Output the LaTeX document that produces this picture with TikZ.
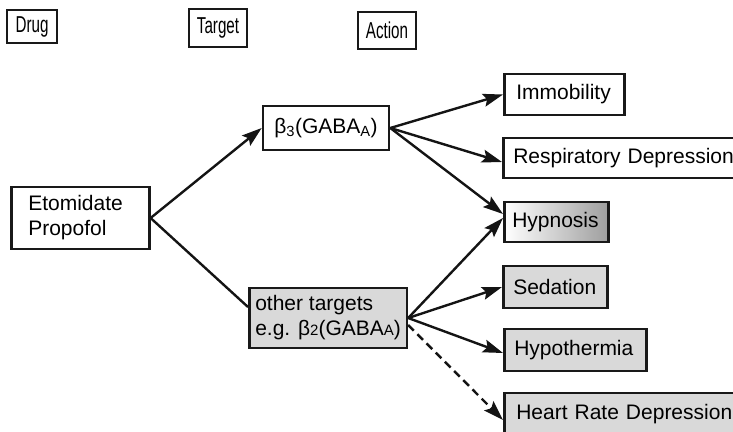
\documentclass[tikz,border=0pt]{standalone}
\usepackage{fontspec}
\setmainfont{Liberation Sans}
\newfontfamily\narrowhdr[FakeStretch=0.66]{Liberation Sans}
\usetikzlibrary{arrows.meta}
\begin{document}
\begin{tikzpicture}[x={(1pt,0pt)}, y={(0pt,-1pt)},
  box/.style={draw=black!90, line width=2.6pt, inner ysep=0pt, font=\fontsize{21}{25}\selectfont},
  hdr/.style={draw=black!90, line width=2.4pt, inner sep=0pt, font=\narrowhdr\fontsize{23}{26}\selectfont},
  grayfill/.style={fill=black!15},
  arr/.style={line width=2.4pt, draw=black!92, -{Stealth[length=20pt,width=13pt,inset=3.5pt]}},
  plain/.style={line width=2.4pt, draw=black!92},
  dashline/.style={dash pattern=on 8pt off 5pt}
]
\useasboundingbox (0,0) rectangle (733,431);
\clip (0,0) rectangle (733,431);

% headers
\node[hdr, minimum width=50pt, minimum height=33pt] (hdrug) at (32,26.5) {Drug};
\node[hdr, minimum width=58pt, minimum height=38pt] (htarget) at (218,28) {Target};
\node[hdr, minimum width=58pt, minimum height=37pt] (haction) at (387,30.5) {Action};

% drug
\node[box, anchor=west, inner xsep=17pt, text width=104pt, align=left, minimum height=62pt] (eto) at (10,218) {Etomidate\\Propofol};

% targets
\node[box, minimum width=126pt, minimum height=44pt, inner xsep=0pt] (b3) at (326,128) {β\textsubscript{3}(GABA\textsubscript{A})};
\node[box, grayfill, anchor=west, inner xsep=6pt, align=left, minimum height=60pt] (ot) at (248,318)
  {other targets\\e.g. β{\fontsize{15}{15}\selectfont 2}(GABA{\fontsize{15}{15}\selectfont A})};

% actions
\node[box, anchor=west, inner xsep=12pt, text width=96pt, align=left, minimum height=41pt] (imm) at (503,94.5) {Immobility};
\node[box, anchor=west, inner xsep=10pt, text width=230pt, align=left, minimum height=40pt] (resp) at (502,158) {Respiratory Depression};
\node[box, anchor=west, inner xsep=8pt, text width=88pt, align=left, minimum height=40pt, left color=white, right color=black!38] (hyp) at (503,222) {Hypnosis};
\node[box, grayfill, anchor=west, inner xsep=10pt, text width=84pt, align=left, minimum height=42pt] (sed) at (502,287) {Sedation};
\node[box, grayfill, anchor=west, inner xsep=10pt, text width=122pt, align=left, minimum height=42pt] (hypo) at (503,350) {Hypothermia};
\node[box, grayfill, anchor=west, inner xsep=12pt, text width=228pt, align=left, minimum height=42pt] (hr) at (503,414) {Heart Rate Depression};

% connectors
\draw[arr] (eto.east) -- (b3.west);
\draw[plain] (eto.east) -- ([yshift=11pt]ot.west);
\draw[arr] (b3.east) -- (imm.west);
\draw[arr] (b3.east) -- ([yshift=-4pt]resp.west);
\draw[arr] (b3.east) -- ([yshift=8pt]hyp.west);
\draw[arr] (ot.east) -- ([yshift=4pt]hyp.west);
\draw[arr] (ot.east) -- (sed.west);
\draw[arr] (ot.east) -- ([yshift=-3pt]hypo.west);
\draw[arr, dashline] ([yshift=-7pt]ot.east) -- ([yshift=-6pt]hr.west);
\end{tikzpicture}
\end{document}
